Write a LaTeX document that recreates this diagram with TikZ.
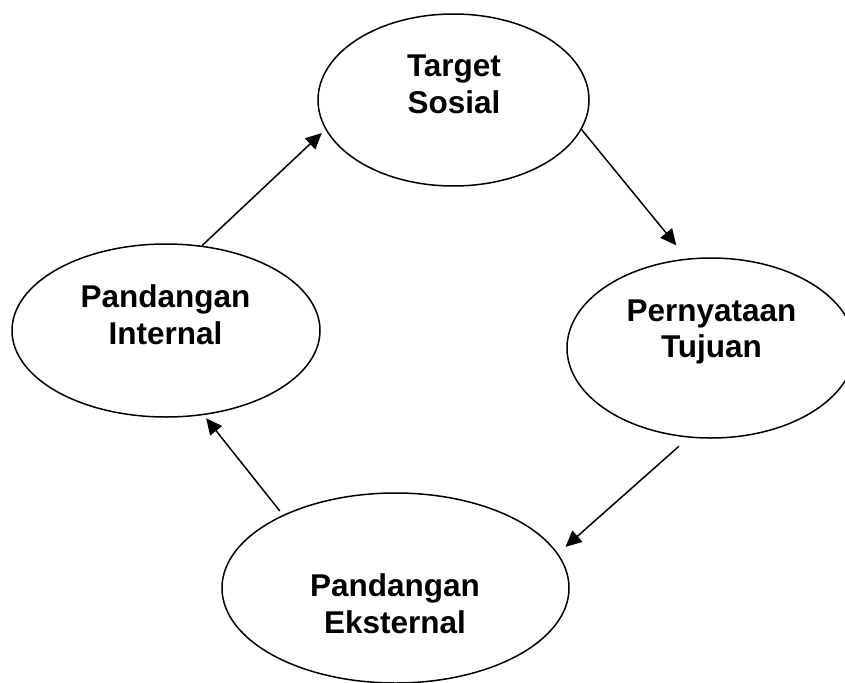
\documentclass[tikz,border=0pt]{standalone}
\usepackage{fontspec}
\setmainfont{Liberation Sans}
\usetikzlibrary{shapes.geometric,arrows.meta}
\begin{document}
\begin{tikzpicture}[x=1pt,y=-1pt,line join=round,>={Triangle[length=16pt,width=15pt]},line width=1.5pt]
				\tikzset{oval/.style={draw,ellipse,inner sep=0pt},
					caption/.style={align=center,inner sep=0pt,font=\bfseries\fontsize{31.5}{36.7}\selectfont}}
				\useasboundingbox (0,0) rectangle (845,682);
				\node[oval,minimum width=271pt,minimum height=172pt] (target) at (453.5,100) {};
				\node[oval,minimum width=308pt,minimum height=173pt] (internal) at (166,330.5) {};
				\node[oval,minimum width=288pt,minimum height=180pt] (pernyataan) at (711,348) {};
				\node[oval,minimum width=347pt,minimum height=190pt] (eksternal) at (395.5,588) {};
				\node[caption] (target-txt) at (454,84) {Target\\Sosial};
				\node[caption] (internal-txt) at (165.5,314.5) {Pandangan\\Internal};
				\node[caption] (pernyataan-txt) at (711.5,332) {Pernyataan\\Tujuan};
				\node[caption] (eksternal-txt) at (395,604) {Pandangan\\Eksternal};
				\draw[->,shorten >=5pt] (internal.67)--(target.193);
				\draw[->,shorten >=17pt] (target.347)--(pernyataan.105);
				\draw[->,shorten <=13pt,shorten >=10pt] (pernyataan.256)--(eksternal.12);
				\draw[->,shorten <=5pt,shorten >=4pt] (eksternal.147)--(internal.294);
			\end{tikzpicture}
\end{document}
